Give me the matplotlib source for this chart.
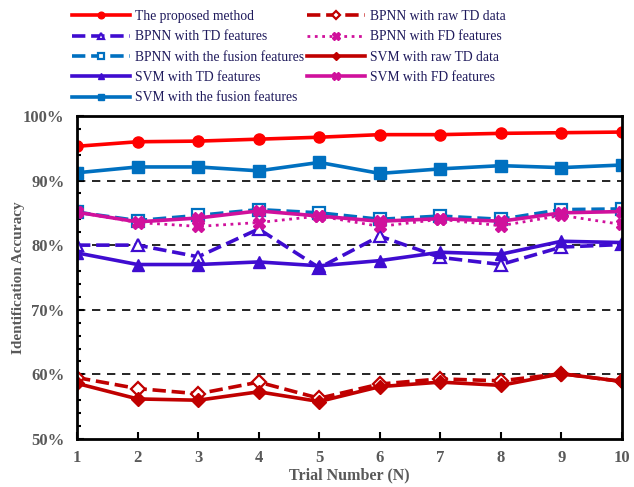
import numpy as np
import matplotlib
matplotlib.use("Agg")
import matplotlib.pyplot as plt
from matplotlib.ticker import MultipleLocator, FuncFormatter

plt.rcParams['font.family'] = ['Liberation Serif', 'DejaVu Serif']

# data
trials = [1, 2, 3, 4, 5, 6, 7, 8, 9, 10]
proposed = [95.3, 96.0, 96.1, 96.4, 96.7, 97.1, 97.1, 97.3, 97.4, 97.5]
bpnn_raw = [59.5, 57.8, 57.0, 58.8, 56.3, 58.5, 59.3, 59.0, 60.1, 58.9]
bpnn_td = [80.0, 80.0, 78.2, 82.5, 76.5, 81.4, 78.1, 77.0, 79.7, 80.1]
bpnn_fd = [85.1, 83.5, 82.9, 83.5, 84.5, 82.9, 84.0, 83.0, 84.6, 83.2]
bpnn_fusion = [85.1, 83.8, 84.6, 85.5, 85.0, 84.0, 84.5, 84.0, 85.5, 85.6]
svm_raw = [58.6, 56.2, 56.0, 57.3, 55.8, 58.1, 58.8, 58.3, 60.1, 58.9]
svm_td = [78.8, 77.0, 77.0, 77.4, 76.8, 77.6, 78.9, 78.6, 80.6, 80.4]
svm_fd = [85.1, 83.6, 84.2, 85.3, 84.5, 83.7, 84.1, 83.7, 85.0, 85.2]
svm_fusion = [91.2, 92.1, 92.1, 91.5, 92.8, 91.1, 91.8, 92.3, 92.0, 92.4]

red = '#FF0000'
dred = '#C00000'
blue = '#0070C0'
purple = '#3F0CD0'
mag = '#D0119C'

fig = plt.figure(figsize=(6.34, 4.87), dpi=100)
ax = fig.add_axes([0.1215, 0.0986, 0.8595, 0.6634])

# dashed grid lines
for yv in [60, 70, 80, 90]:
    ax.axhline(yv, color='black', linestyle=(0, (5, 4)), linewidth=1.2, zorder=0)

lw = 2.6
h1 = ax.plot(trials, proposed, '-', color=red, lw=lw, marker='o', ms=8, label='The proposed method')
h2 = ax.plot(trials, bpnn_td, '--', color=purple, lw=lw, marker='^', ms=8, mfc='white', mew=1.6, label='BPNN with TD features')
h3 = ax.plot(trials, bpnn_fusion, '--', color=blue, lw=lw, marker='s', ms=8, mfc='white', mew=1.6, label='BPNN with the fusion features')
h4 = ax.plot(trials, svm_td, '-', color=purple, lw=lw, marker='^', ms=8, label='SVM with TD features')
h5 = ax.plot(trials, svm_fusion, '-', color=blue, lw=lw, marker='s', ms=8, label='SVM with the fusion features')
h6 = ax.plot(trials, bpnn_raw, '--', color=dred, lw=lw, marker='D', ms=7, mfc='white', mew=1.6, label='BPNN with raw TD data')
h7 = ax.plot(trials, bpnn_fd, ':', color=mag, lw=2.0, marker='X', ms=9, label='BPNN with FD features')
h8 = ax.plot(trials, svm_raw, '-', color=dred, lw=lw, marker='D', ms=7, label='SVM with raw TD data')
h9 = ax.plot(trials, svm_fd, '-', color=mag, lw=lw, marker='X', ms=9, label='SVM with FD features')

ax.set_xlim(1, 10)
ax.set_ylim(50, 100)
ax.set_xticks(trials)
ax.yaxis.set_major_locator(MultipleLocator(10))
ax.yaxis.set_minor_locator(MultipleLocator(2))
ax.yaxis.set_major_formatter(FuncFormatter(lambda v, p: f'{int(v)}%'))
ax.tick_params(axis='both', which='both', direction='in', colors='black', width=1.5)
ax.tick_params(axis='both', which='major', length=5, labelsize=12, labelcolor='#595959')
ax.tick_params(axis='y', which='minor', length=3)
ax.tick_params(axis='x', pad=8)
ax.tick_params(axis='y', pad=9)
for lab in ax.get_xticklabels() + ax.get_yticklabels():
    lab.set_fontweight('bold')
for sp in ax.spines.values():
    sp.set_linewidth(2)

ax.set_xlabel('Trial Number (N)', fontsize=11.5, fontweight='bold', color='#595959')
ax.set_ylabel('Identification Accuracy', fontsize=11, fontweight='bold', color='#595959')
ax.xaxis.set_label_coords(0.5, -0.088)
ax.yaxis.set_label_coords(-0.095, 0.5)

# two legend columns placed separately
kw = dict(frameon=False, fontsize=9.8, handlelength=4.26, markerscale=0.6,
          labelspacing=0.54, handletextpad=0.37, borderaxespad=0, borderpad=0)
leg1 = fig.legend(handles=h1 + h2 + h3 + h4 + h5, loc='upper left',
                  bbox_to_anchor=(72 / 634, 1 - 10 / 487), **kw)
leg2 = fig.legend(handles=h6 + h7 + h8 + h9, loc='upper left',
                  bbox_to_anchor=(307 / 634, 1 - 10 / 487), **kw)
for leg in (leg1, leg2):
    for t in leg.get_texts():
        t.set_color('#1F1A5C')

fig.savefig('out.png', dpi=100)
